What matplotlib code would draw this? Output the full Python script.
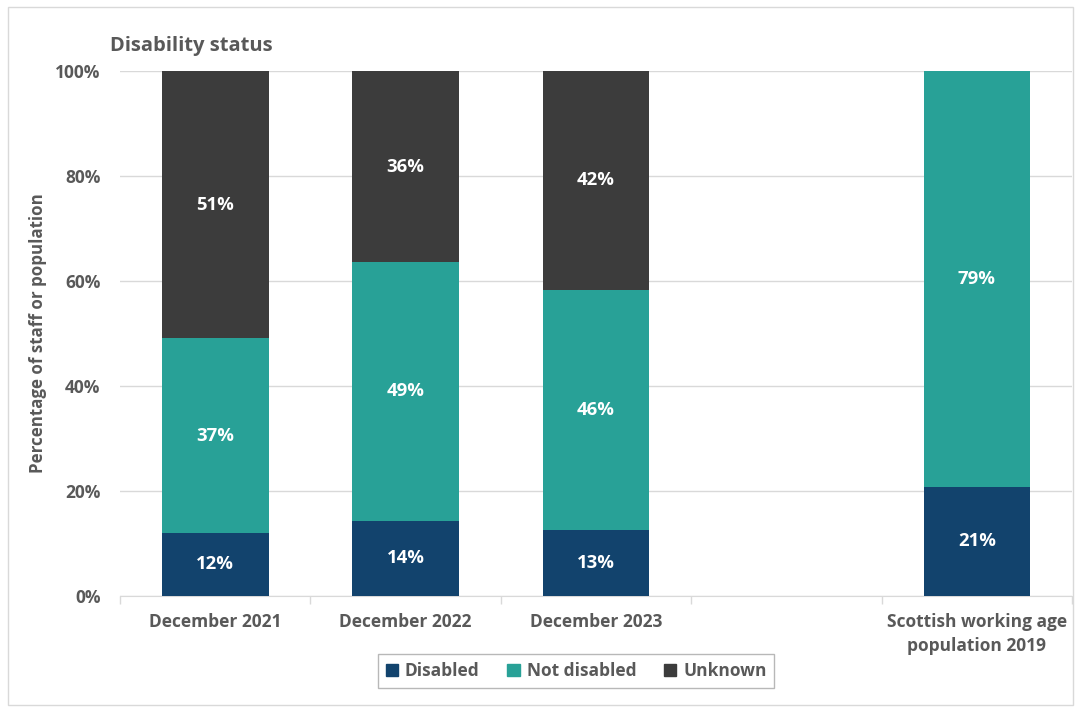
import numpy as np
import matplotlib.pyplot as plt
from matplotlib.patches import Patch, Rectangle

# data (percent of staff / population)
categories = ['December 2021', 'December 2022', 'December 2023', '',
              'Scottish working age\npopulation 2019']
disabled = [12.0, 14.3, 12.6, 0.0, 20.8]
not_disabled = [37.1, 49.3, 45.7, 0.0, 79.2]
unknown = [50.9, 36.4, 41.7, 0.0, 0.0]
series_names = ['Disabled', 'Not disabled', 'Unknown']

colours = ['#12436D', '#28A197', '#3C3C3C']
grey = '#595959'

plt.rcParams['font.family'] = ['Open Sans', 'DejaVu Sans']

fig = plt.figure(figsize=(10.77, 7.09), dpi=100)
ax = fig.add_axes([0.1114, 0.1594, 0.884, 0.7405])

x = np.arange(len(categories))
bw = 0.56
bottoms = np.zeros(len(categories))
for vals, col in zip([disabled, not_disabled, unknown], colours):
    vals = np.array(vals)
    ax.bar(x, vals, bw, bottom=bottoms, color=col, zorder=3)
    for xi, v, b in zip(x, vals, bottoms):
        if v > 0:
            ax.text(xi, b + v / 2, '%d%%' % round(v), ha='center', va='center',
                    color='white', fontsize=13.3, fontweight='bold', zorder=4)
    bottoms = bottoms + vals

ax.set_xlim(-0.5, len(categories) - 0.5)
ax.set_ylim(0, 100)
ax.set_yticks(np.arange(0, 101, 20))
ax.set_yticklabels(['%d%%' % v for v in range(0, 101, 20)])
ax.yaxis.grid(True, color='#D9D9D9', linewidth=1, zorder=0)
ax.set_axisbelow(True)

ax.set_xticks(x)
ax.set_xticklabels(categories, linespacing=1.45)
ax.set_xticks(np.arange(len(categories) + 1) - 0.5, minor=True)
ax.tick_params(axis='x', which='major', length=0, pad=12)
ax.tick_params(axis='x', which='minor', length=6, color='#D9D9D9', width=1)
ax.tick_params(axis='y', length=0, pad=14)
for lab in ax.get_xticklabels() + ax.get_yticklabels():
    lab.set_fontsize(12.5)
    lab.set_fontweight('bold')
    lab.set_color(grey)

for s in ['top', 'right', 'left']:
    ax.spines[s].set_visible(False)
ax.spines['bottom'].set_color('#D9D9D9')

ax.set_ylabel('Percentage of staff or population', fontsize=12.2,
              fontweight='bold', color=grey, labelpad=6)

fig.text(0.102, 0.935, 'Disability status', fontsize=14.5, fontweight='bold',
         color=grey, ha='left', va='center')

handles = [Patch(facecolor=c, edgecolor=c) for c in colours]
leg = fig.legend(handles, series_names, loc='center', ncol=3,
                 bbox_to_anchor=(0.535, 0.054), frameon=True, fancybox=False,
                 fontsize=12.5, handlelength=0.7, handleheight=0.7,
                 handletextpad=0.4, columnspacing=1.6, borderpad=0.45)
leg.get_frame().set_edgecolor('#A6A6A6')
leg.get_frame().set_linewidth(1)
for t in leg.get_texts():
    t.set_color(grey)
    t.set_fontweight('bold')

# light outer border like the exported chart area
fig.patches.append(Rectangle((0.007, 0.006), 0.989, 0.984, transform=fig.transFigure,
                             fill=False, edgecolor='#D9D9D9', linewidth=1))

fig.savefig('out.png', dpi=100)
